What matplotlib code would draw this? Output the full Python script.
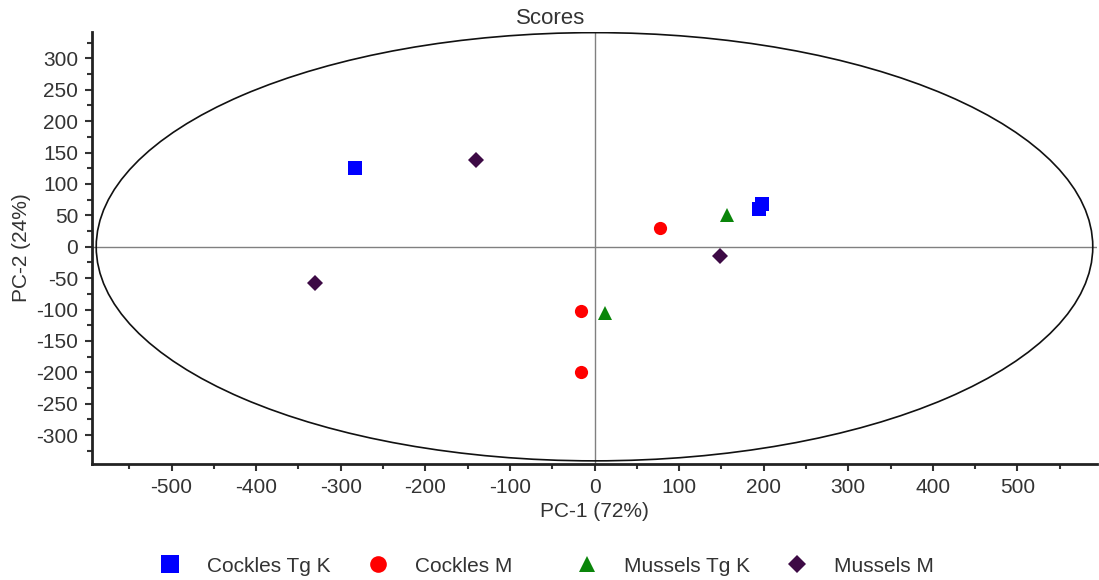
import matplotlib
matplotlib.use("Agg")
import matplotlib.pyplot as plt
from matplotlib.patches import Ellipse
from matplotlib.ticker import MultipleLocator, FixedLocator
from matplotlib.lines import Line2D

plt.rcParams['font.family'] = ['Liberation Sans', 'DejaVu Sans']
plt.rcParams['axes.unicode_minus'] = False

# ---- data ----
series_names = ["Cockles Tg K", "Cockles M", "Mussels Tg K", "Mussels M"]
cockles_tgk_x = [-283, 194, 198]
cockles_tgk_y = [126, 60, 68]
cockles_m_x = [78, -16, -16]
cockles_m_y = [30, -102, -199]
mussels_tgk_x = [157, 12]
mussels_tgk_y = [50, -105]
mussels_m_x = [-140, 148, -330]
mussels_m_y = [138, -14, -57]

ellipse_rx = 589
ellipse_ry = 341

x_ticks = [-500, -400, -300, -200, -100, 0, 100, 200, 300, 400, 500]
y_ticks = [-300, -250, -200, -150, -100, -50, 0, 50, 100, 150, 200, 250, 300]

title = "Scores"
x_label = "PC-1 (72%)"
y_label = "PC-2 (24%)"

# ---- styles ----
styles = [
    dict(marker='s', color='#0000ff', ms=10.5, lms=12.5),
    dict(marker='o', color='#ff0000', ms=9.5, lms=12),
    dict(marker='^', color='#0a850a', ms=9.5, lms=11),
    dict(marker='D', color='#3d0a45', ms=7.8, lms=9.5),
]
xs = [cockles_tgk_x, cockles_m_x, mussels_tgk_x, mussels_m_x]
ys = [cockles_tgk_y, cockles_m_y, mussels_tgk_y, mussels_m_y]

W, H = 1099, 580
fig = plt.figure(figsize=(W / 100, H / 100), dpi=100)
ax = fig.add_axes([92 / W, 1 - 464 / H, (1097 - 92) / W, (464 - 32) / H])

ax.set_xlim(-594, 594)
ax.set_ylim(-346, 342)

ax.axhline(0, color='#808080', lw=1.0, zorder=1)
ax.axvline(0, color='#808080', lw=1.0, zorder=1)
ax.add_patch(Ellipse((0, 0), 2 * ellipse_rx, 2 * ellipse_ry, fill=False,
                     edgecolor='#111111', lw=1.2, zorder=2))

handles = []
for name, x, y, st in zip(series_names, xs, ys, styles):
    h, = ax.plot(x, y, linestyle='none', marker=st['marker'], color=st['color'],
                 markersize=st['ms'], markeredgewidth=0, label=name, zorder=3)
    handles.append(h)

for side in ('top', 'right'):
    ax.spines[side].set_visible(False)
for side in ('left', 'bottom'):
    ax.spines[side].set_linewidth(2.0)
    ax.spines[side].set_color('#222222')

ax.xaxis.set_major_locator(FixedLocator(x_ticks))
ax.yaxis.set_major_locator(FixedLocator(y_ticks))
ax.xaxis.set_minor_locator(MultipleLocator(50))
ax.yaxis.set_minor_locator(MultipleLocator(25))
ax.tick_params(which='major', length=5, width=1.5, color='#333333',
               labelsize=15, labelcolor='#333333', pad=5)
ax.tick_params(which='minor', length=3.5, width=1.5, color='#333333')

ax.set_xlabel(x_label, fontsize=15, color='#333333', labelpad=4)
ax.set_ylabel(y_label, fontsize=15, color='#333333', labelpad=4)
fig.text(551 / W, 1 - 18 / H, title, fontsize=16, color='#333333',
         ha='center', va='center')

# legend entries, evenly spaced
marker_centers = [170, 378, 587, 797]
fs = 15
em = fs * 100 / 72
for h, st, xc in zip(handles, styles, marker_centers):
    lh = Line2D([], [], linestyle='none', marker=h.get_marker(), color=h.get_color(),
                markersize=st['lms'], markeredgewidth=0)
    fig.legend([lh], [h.get_label()], loc='center left',
               bbox_to_anchor=((xc - 0.5 * em) / W, 1 - 566 / H),
               frameon=False, fontsize=fs, handlelength=1.0,
               handletextpad=(37 - 0.5 * em) / em, borderpad=0, borderaxespad=0,
               labelcolor='#333333')

fig.savefig("out.png", dpi=100)
